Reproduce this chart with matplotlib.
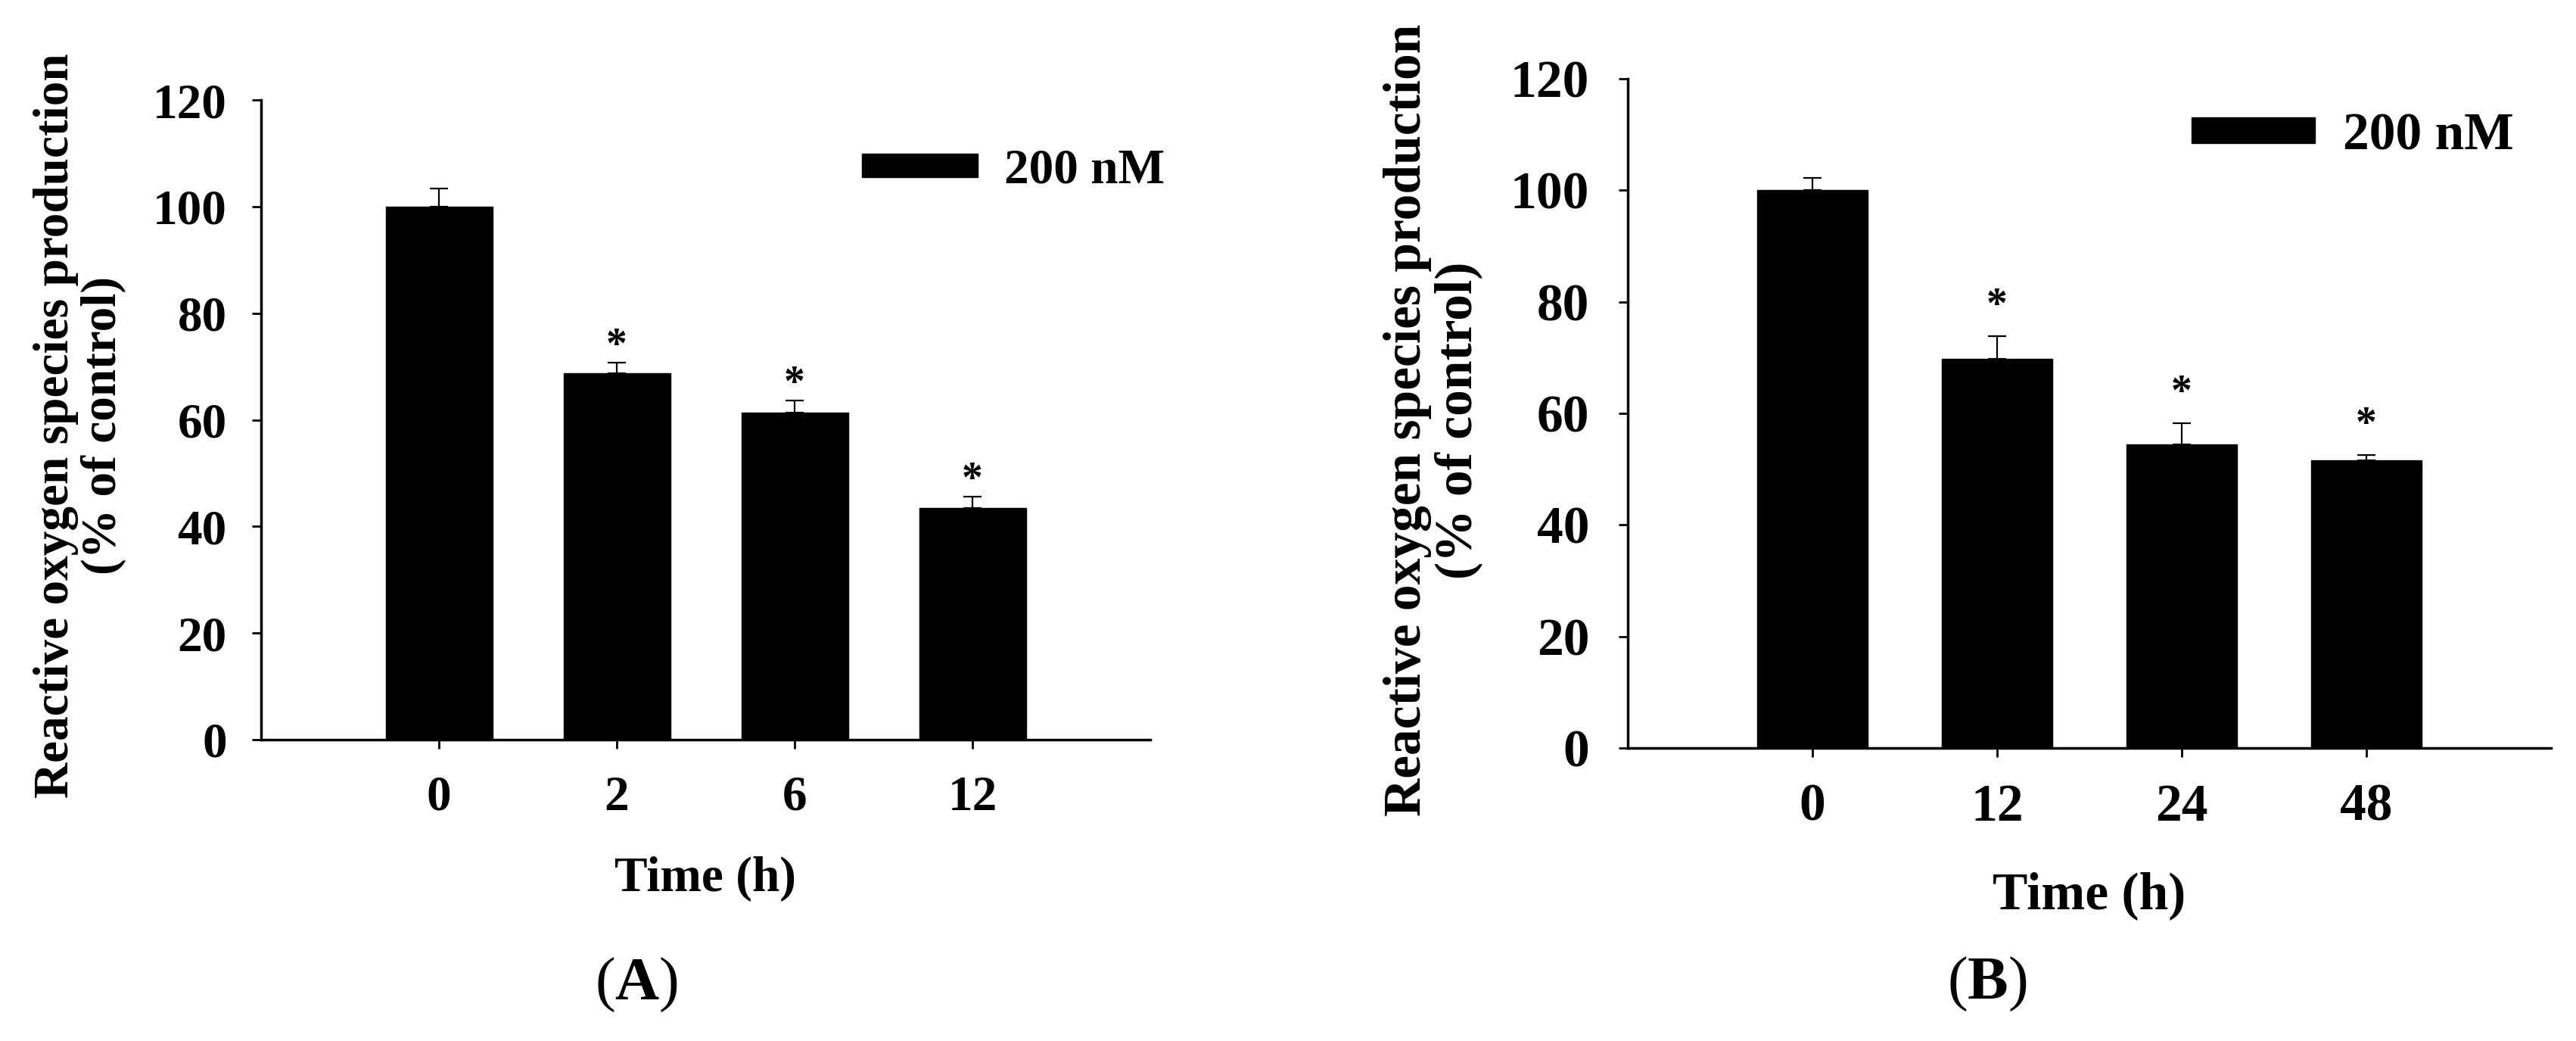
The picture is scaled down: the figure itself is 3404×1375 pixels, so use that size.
import numpy as np
import matplotlib
matplotlib.use("Agg")
import matplotlib.pyplot as plt
from matplotlib.patches import Patch

plt.rcParams['font.family'] = ['Liberation Serif', 'DejaVu Serif']
plt.rcParams['font.weight'] = 'bold'
plt.rcParams['axes.labelweight'] = 'bold'
plt.rcParams['mathtext.fontset'] = 'custom'
plt.rcParams['mathtext.rm'] = 'Liberation Serif:weight=normal'
plt.rcParams['mathtext.bf'] = 'Liberation Serif:weight=bold'

# panel A: 200 nM, short time course
times_a = ['0', '2', '6', '12']
ros_a = [100.0, 68.8, 61.3, 43.4]
sem_a = [3.4, 1.9, 2.3, 2.2]
sig_a = [False, True, True, True]

# panel B: 200 nM, long time course
times_b = ['0', '12', '24', '48']
ros_b = [100.0, 69.8, 54.4, 51.6]
sem_b = [2.2, 4.1, 3.8, 1.0]
sig_b = [False, True, True, True]

legend_label = '200 nM'
ylab = 'Reactive oxygen species production\n(% of control)'

fig = plt.figure(figsize=(34.04, 13.75), dpi=100)


def panel(rect, times, vals, errs, sig, fs, star_off, leg_xy, ylab_xy, xlab_y, ypad):
    ax = fig.add_axes(rect)
    x = np.arange(len(times))
    ax.bar(x, vals, width=0.6, color='black', edgecolor='black', zorder=2)
    ax.errorbar(x, vals, yerr=[np.zeros(len(errs)), errs], fmt='none',
                ecolor='black', elinewidth=1.6, capsize=8.5, capthick=1.6, zorder=1)
    for xi, v, e, s in zip(x, vals, errs, sig):
        if s:
            ax.annotate('*', (xi, v + e), xytext=(0, star_off), textcoords='offset points',
                        ha='center', va='baseline', fontsize=40)
    ax.set_xlim(-1, len(times))
    ax.set_ylim(0, 120)
    ax.set_yticks(np.arange(0, 121, 20))
    ax.set_xticks(x)
    ax.set_xticklabels(times)
    for sp in ['top', 'right']:
        ax.spines[sp].set_visible(False)
    for sp in ['left', 'bottom']:
        ax.spines[sp].set_linewidth(2.5)
    ax.tick_params(direction='out', length=8.6, width=2, labelsize=fs)
    ax.tick_params(axis='x', pad=25)
    ax.tick_params(axis='y', pad=ypad)
    ax.set_ylabel(ylab, fontsize=fs, fontweight='bold', linespacing=1.05)
    ax.yaxis.label.set_va('center')
    ax.yaxis.set_label_coords(*ylab_xy)
    ax.set_xlabel('Time (h)', fontsize=fs, fontweight='bold')
    ax.xaxis.label.set_va('center')
    ax.xaxis.set_label_coords(0.5, xlab_y)
    ax.legend(handles=[Patch(facecolor='black', edgecolor='black')], labels=[legend_label],
              loc='center left', bbox_to_anchor=leg_xy, frameon=False, fontsize=fs,
              handlelength=2.34, handleheight=0.37, handletextpad=0.54,
              borderpad=0, borderaxespad=0)
    return ax


W, H = 3404, 1375
panel([345 / W, 1 - 977 / H, 1175 / W, 845 / H], times_a, ros_a, sem_a, sig_a,
      47, 5, (0.676, 0.889), (-0.204, 0.491), -0.218, 24)
panel([2151 / W, 1 - 988 / H, 1220 / W, 884 / H], times_b, ros_b, sem_b, sig_b,
      50, 18, (0.611, 0.914), (-0.211, 0.49), -0.221, 28)

fig.text(841 / W, 1 - 1301 / H, r'$(\mathbf{A})$', ha='center', va='center', fontsize=58)
fig.text(2626 / W, 1 - 1300 / H, r'$(\mathbf{B})$', ha='center', va='center', fontsize=58)

fig.savefig('out.png', dpi=100, facecolor='white')
